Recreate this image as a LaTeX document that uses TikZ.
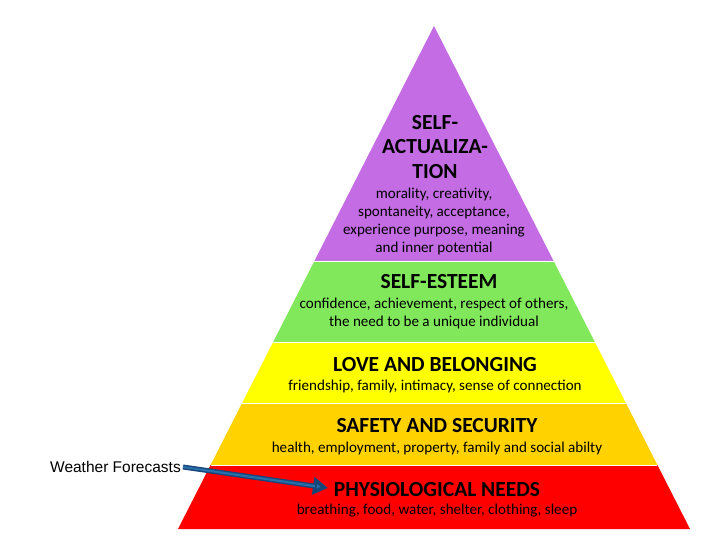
\documentclass[tikz,border=0pt]{standalone}
\usepackage{fontspec}
\setmainfont{Carlito}
\newfontfamily\arialfont{Liberation Sans}
\usetikzlibrary{calc,arrows.meta}
\definecolor{cpurple}{RGB}{196,108,228}
\definecolor{cgreen}{RGB}{128,232,90}
\definecolor{cyellow}{RGB}{255,255,0}
\definecolor{corange}{RGB}{255,210,0}
\definecolor{cred}{RGB}{255,0,0}
\definecolor{arrfill}{RGB}{40,110,170}
\definecolor{arrdraw}{RGB}{25,70,120}
\tikzset{
  band/.style={draw=white, line width=0.8pt},
  ttl/.style={font=\fontsize{21.5}{24.5}\selectfont\bfseries, text=black, align=center, inner sep=0pt},
  desc/.style={font=\fontsize{15.1}{18}\selectfont, text=black, align=center, inner sep=0pt},
  lbl/.style={font=\arialfont\fontsize{15.5}{18}\selectfont, text=black, inner sep=0pt},
  bluearrow/.style={draw=arrdraw, line width=5pt, -{Triangle[length=15pt,width=17pt,fill=arrfill]}, color=arrdraw}
}
\begin{document}
\begin{tikzpicture}[x=1pt,y=-1pt]
\useasboundingbox (0,0) rectangle (715,545);
\coordinate (A) at (434,26);
\coordinate (BL) at (178,529);
\coordinate (BR) at (690,529);
\coordinate (L1) at ($(A)!0.4672!(BL)$);
\coordinate (R1) at ($(A)!0.4672!(BR)$);
\coordinate (L2) at ($(A)!0.6282!(BL)$);
\coordinate (R2) at ($(A)!0.6282!(BR)$);
\coordinate (L3) at ($(A)!0.7495!(BL)$);
\coordinate (R3) at ($(A)!0.7495!(BR)$);
\coordinate (L4) at ($(A)!0.8728!(BL)$);
\coordinate (R4) at ($(A)!0.8728!(BR)$);
% bands
\fill[cpurple] (A) -- (L1) -- (R1) -- cycle;
\fill[cgreen] (L1) -- (L2) -- (R2) -- (R1) -- cycle;
\fill[cyellow] (L2) -- (L3) -- (R3) -- (R2) -- cycle;
\fill[corange] (L3) -- (L4) -- (R4) -- (R3) -- cycle;
\fill[cred] (L4) -- (BL) -- (BR) -- (R4) -- cycle;
\draw[white, line width=0.8pt] (L1) -- (R1) (L2) -- (R2) (L3) -- (R3) (L4) -- (R4);
% texts
\node[ttl] (t1) at (435,147) {SELF-\\ACTUALIZA-\\TION};
\node[desc] (d1) at (434,221) {morality, creativity,\\spontaneity, acceptance,\\experience purpose, meaning\\and inner potential};
\node[ttl] (t2) at (439,282) {SELF-ESTEEM};
\node[desc] (d2) at (434,313) {confidence, achievement, respect of others,\\the need to be a unique individual};
\node[ttl] (t3) at (435,365) {LOVE AND BELONGING};
\node[desc] (d3) at (435,386) {friendship, family, intimacy, sense of connection};
\node[ttl] (t4) at (437,426) {SAFETY AND SECURITY};
\node[desc] (d4) at (437,448) {health, employment, property, family and social abilty};
\node[ttl] (t5) at (437,490) {PHYSIOLOGICAL NEEDS};
\node[desc] (d5) at (437,511) {breathing, food, water, shelter, clothing, sleep};
% label and arrow
\node[lbl, anchor=east] (wf) at (181,467) {Weather Forecasts};
\coordinate (tip) at (328,488);
\draw[bluearrow] ([xshift=2pt]wf.east) -- (tip);
\draw[arrfill, line width=2.2pt, shorten >=13pt] ([xshift=2pt]wf.east) -- (tip);
\end{tikzpicture}
\end{document}
